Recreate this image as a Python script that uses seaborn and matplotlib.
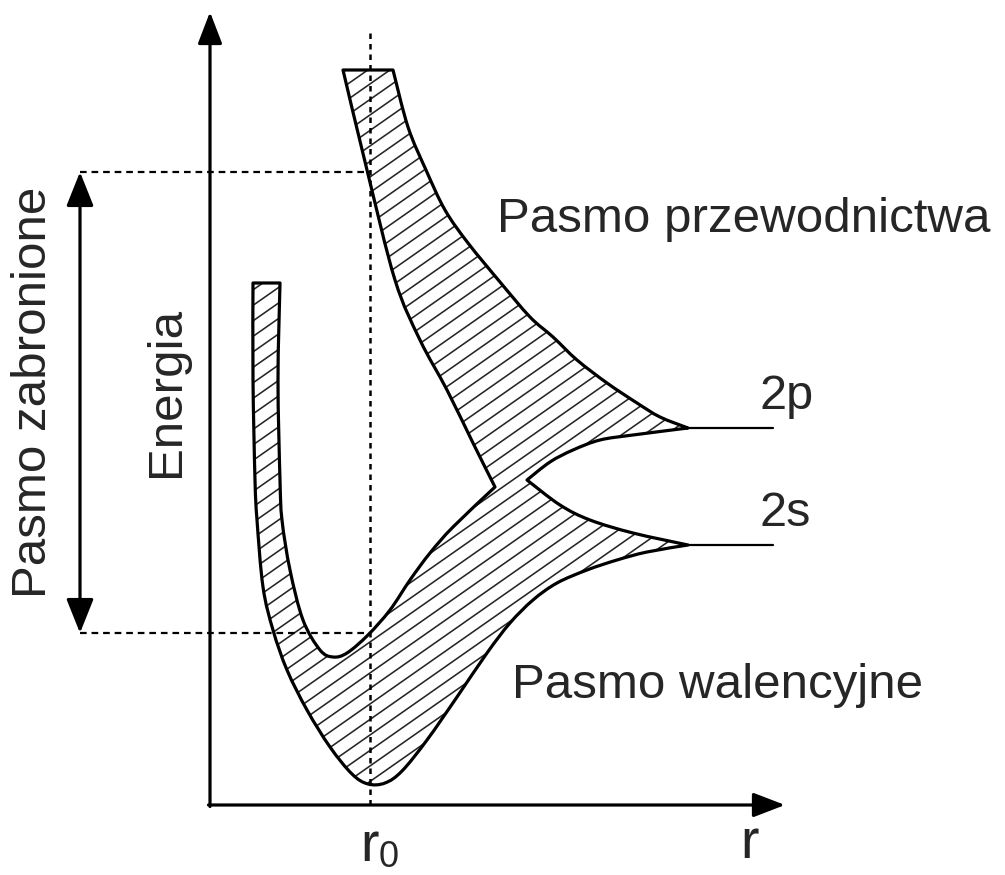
import numpy as np
import matplotlib
matplotlib.use("Agg")
import matplotlib.pyplot as plt
import seaborn as sns
from matplotlib.collections import LineCollection
from matplotlib.path import Path
from matplotlib.patches import PathPatch

sns.set_theme(style="white")
plt.rcParams["font.family"] = ["Liberation Sans", "DejaVu Sans"]

# ---- band edges (r, E in arbitrary units, origin at the axes corner) ----
# conduction band ("Pasmo przewodnictwa")
cb_left_r = [1.33, 1.57, 1.85, 2.10, 2.37, 2.63, 2.85]
cb_left_E = [7.35, 6.35, 5.25, 4.65, 4.15, 3.62, 3.18]
cb_right_r = [1.83, 1.98, 2.16, 2.35, 2.58, 2.90, 3.20, 3.43, 3.67, 3.97, 4.27, 4.50, 4.78]
cb_right_E = [7.35, 6.78, 6.35, 5.95, 5.62, 5.23, 4.88, 4.68, 4.45, 4.22, 4.02, 3.88, 3.77]
cb_low_r = [3.17, 3.40, 3.63, 3.90, 4.23, 4.78]
cb_low_E = [3.25, 3.43, 3.55, 3.65, 3.70, 3.77]

# valence band ("Pasmo walencyjne")
vb_up_r = [3.17, 3.50, 3.80, 4.23, 4.78]
vb_up_E = [3.25, 3.00, 2.85, 2.72, 2.60]
vb_out_r = [4.78, 4.37, 4.07, 3.77, 3.47, 3.23, 3.00, 2.77, 2.47, 2.17, 1.92, 1.75, 1.58,
            1.42, 1.20, 0.97, 0.77, 0.63, 0.53, 0.47, 0.45, 0.43, 0.43]
vb_out_E = [2.60, 2.53, 2.45, 2.35, 2.22, 2.05, 1.82, 1.52, 1.08, 0.65, 0.34, 0.22, 0.21,
            0.31, 0.58, 0.95, 1.35, 1.75, 2.18, 2.85, 3.25, 4.25, 5.22]
vb_in_r = [0.70, 0.68, 0.70, 0.72, 0.80, 0.93, 1.10, 1.23, 1.37, 1.58, 1.80, 2.00, 2.20, 2.43, 2.85]
vb_in_E = [5.22, 4.25, 3.25, 2.85, 2.35, 1.85, 1.55, 1.48, 1.52, 1.70, 1.95, 2.25, 2.52, 2.78, 3.18]

# atomic levels
levels = ["2p", "2s"]
level_E = [3.77, 2.60]
level_r = [4.78, 5.63]

# equilibrium distance and gap edges
r0 = 1.60
gap_top, gap_bottom = 6.33, 1.72
gap_arrow_r = -1.30


def smooth_edge(rs, es):
    """Catmull-Rom through the read points -> cubic bezier pieces (without the start point)."""
    p = np.column_stack([rs, es])
    p_ext = np.vstack([p[0], p, p[-1]])
    verts = []
    for i in range(1, len(p_ext) - 2):
        a, b, c, d = p_ext[i - 1], p_ext[i], p_ext[i + 1], p_ext[i + 2]
        verts += [b + (c - a) / 6, c - (d - b) / 6, c]
    return verts


def band_path():
    edges = [
        (cb_right_r, cb_right_E),
        (cb_low_r[::-1], cb_low_E[::-1]),
        (vb_up_r, vb_up_E),
        (vb_out_r, vb_out_E),
        None,  # flat top of the valence branch
        (vb_in_r, vb_in_E),
        (cb_left_r[::-1], cb_left_E[::-1]),
    ]
    verts = [(cb_right_r[0], cb_right_E[0])]
    codes = [Path.MOVETO]
    for e in edges:
        if e is None:
            verts.append((vb_in_r[0], vb_in_E[0]))
            codes.append(Path.LINETO)
            continue
        v = smooth_edge(*e)
        verts += [tuple(x) for x in v]
        codes += [Path.CURVE4] * len(v)
    verts.append(verts[0])
    codes.append(Path.CLOSEPOLY)
    return Path(verts, codes)


fig = plt.figure(figsize=(10.05, 8.75), dpi=100)
ax = fig.add_axes([0, 0, 1, 1])
ax.set_xlim(-2.10, 7.95)
ax.set_ylim(-0.70, 8.05)
ax.axis("off")

path = band_path()
fill = PathPatch(path, facecolor="white", edgecolor="none", zorder=1)
ax.add_patch(fill)
slope = np.tan(np.radians(35))
segs = [[(-1.0, slope * -1.0 + c), (6.0, slope * 6.0 + c)] for c in np.arange(-6, 9, 0.155)]
hatch = LineCollection(segs, colors="#262626", linewidths=1.15, zorder=2)
ax.add_collection(hatch)
hatch.set_clip_path(fill)
ax.add_patch(PathPatch(path, facecolor="none", edgecolor="black", lw=2.3,
                       joinstyle="round", zorder=4))

for name, e in zip(levels, level_E):
    sns.lineplot(x=level_r, y=[e, e], sort=False, estimator=None, color="black",
                 linewidth=1.6, ax=ax, zorder=4)
    ax.text(5.49, e + 0.19, name, fontsize=35, ha="left", va="baseline")

# dashed guides
ax.plot([r0, r0], [0, 7.72], color="black", lw=1.8, ls=(0, (2.2, 2.0)), zorder=3)
ax.plot([gap_arrow_r, r0], [gap_top, gap_top], color="black", lw=1.6, ls=(0, (3, 2.2)), zorder=3)
ax.plot([gap_arrow_r, r0], [gap_bottom, gap_bottom], color="black", lw=1.6, ls=(0, (3, 2.2)), zorder=3)

# axes arrows
arrow = dict(arrowstyle="-|>,head_length=0.65,head_width=0.25", color="black", lw=2.3,
             mutation_scale=30, shrinkA=0, shrinkB=0)
ax.annotate("", xy=(0, 7.93), xytext=(0, -0.015), arrowprops=arrow)
ax.annotate("", xy=(5.75, 0), xytext=(-0.015, 0), arrowprops=arrow)

# forbidden gap double arrow
ax.annotate("", xy=(gap_arrow_r, gap_top), xytext=(gap_arrow_r, gap_bottom),
            arrowprops=dict(arrowstyle="<|-|>,head_length=0.7,head_width=0.28", color="black",
                            lw=2.3, mutation_scale=30, shrinkA=0, shrinkB=0))

# labels
ax.text(2.87, 5.73, "Pasmo przewodnictwa", fontsize=35.5, ha="left", va="baseline")
ax.text(3.02, 1.07, "Pasmo walencyjne", fontsize=35.5, ha="left", va="baseline")
ax.text(-0.44, 4.13, "Energia", fontsize=35.5, rotation=90, ha="center", va="center")
ax.text(-1.77, 4.13, "Pasmo zabronione", fontsize=35.5, rotation=90, ha="center", va="center")
ax.text(1.50, -0.56, "r", fontsize=40, ha="left", va="baseline")
ax.text(1.69, -0.62, "0", fontsize=26, ha="left", va="baseline")
ax.text(5.30, -0.53, "r", fontsize=40, ha="left", va="baseline")

fig.savefig("out.png", dpi=100, facecolor="white")
